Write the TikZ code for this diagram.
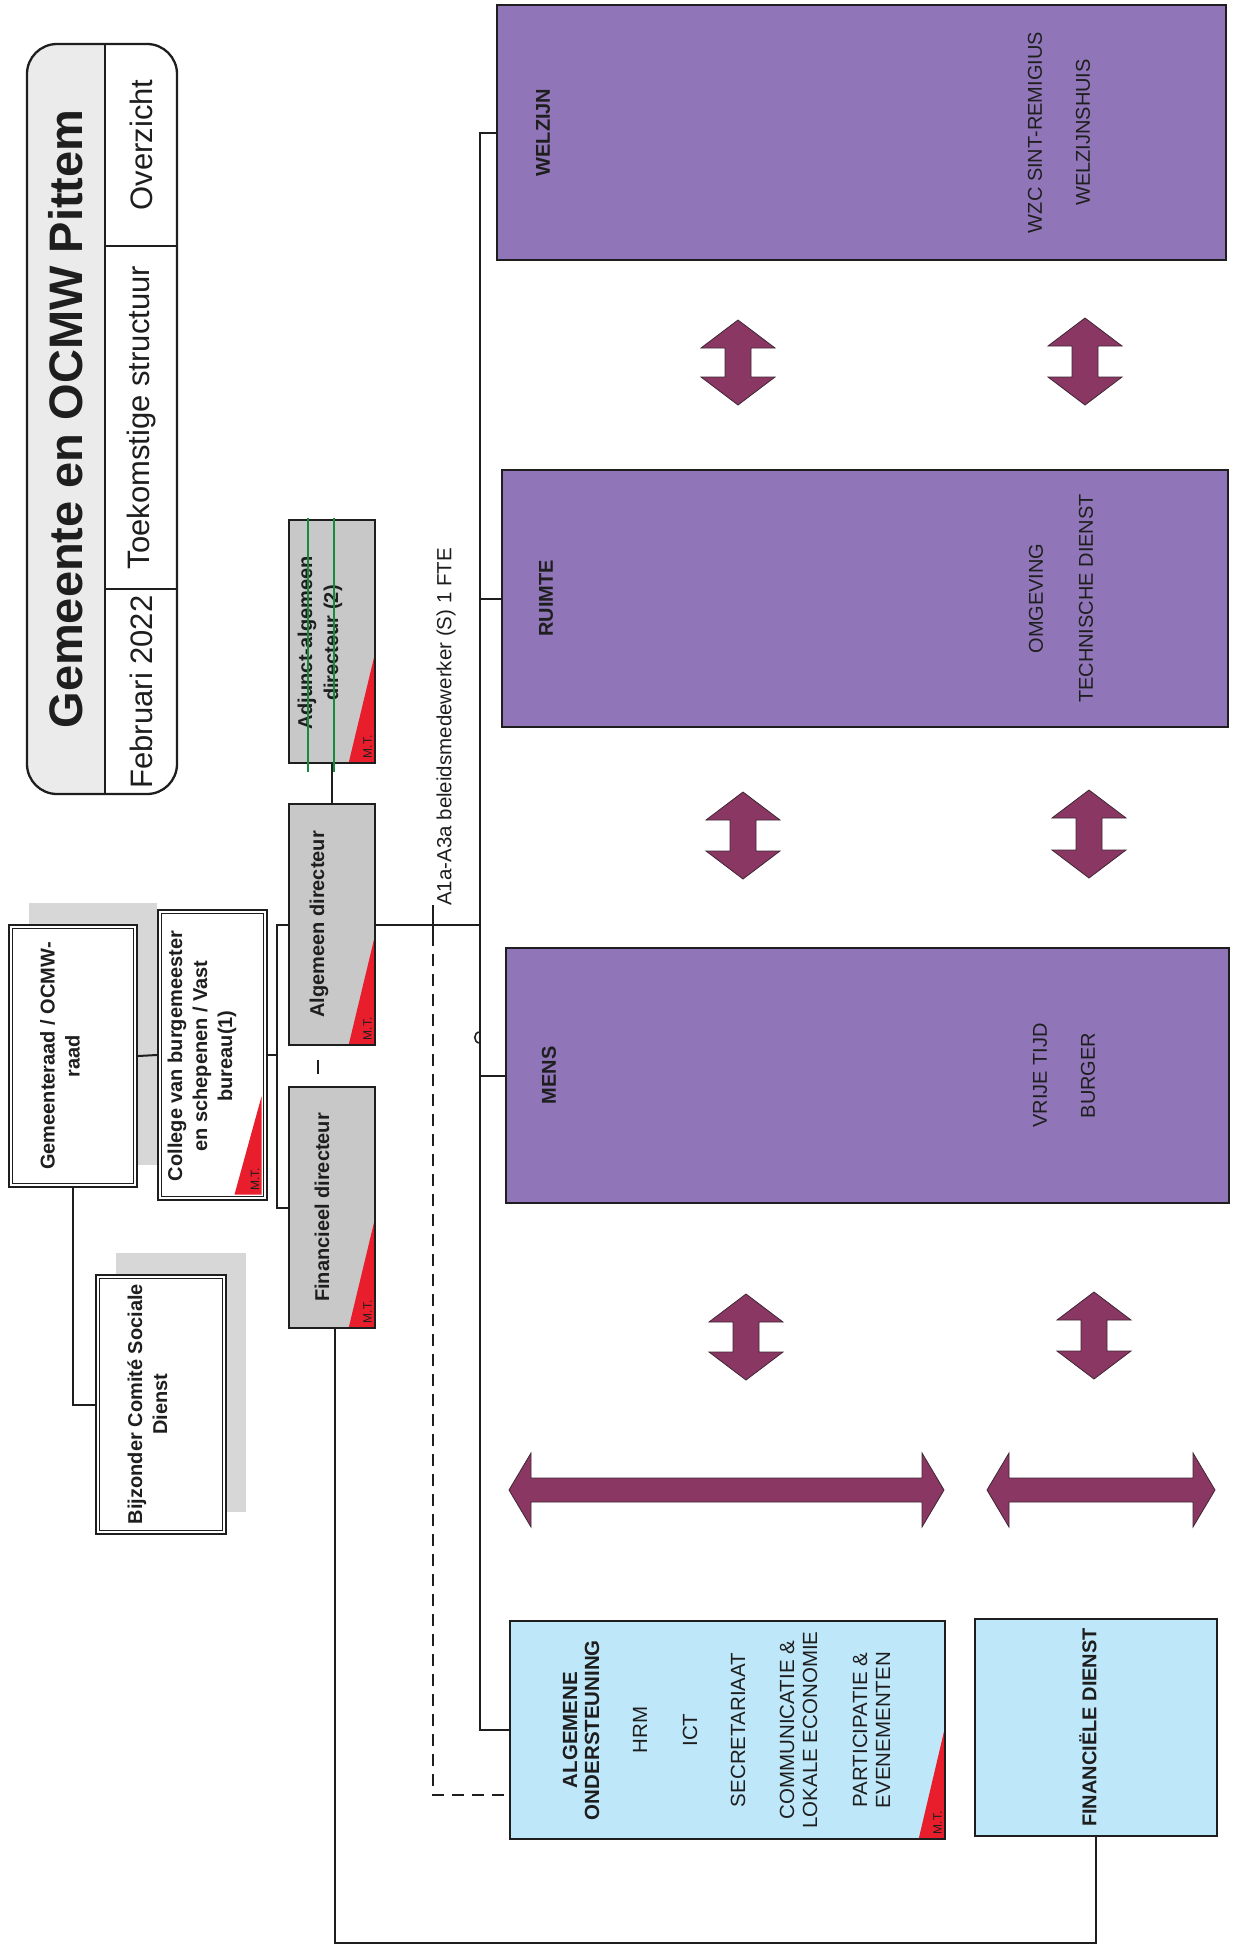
\documentclass[tikz,border=0pt]{standalone}
\usepackage{fontspec}
\setmainfont{Liberation Sans}
\usetikzlibrary{calc}
\definecolor{purp}{RGB}{144,118,184}
\definecolor{lblue}{RGB}{190,232,250}
\definecolor{dgray}{RGB}{200,200,200}
\definecolor{tgray}{RGB}{235,235,235}
\definecolor{shad}{RGB}{215,215,215}
\definecolor{mtred}{RGB}{232,30,45}
\definecolor{maroonc}{RGB}{139,55,100}
\definecolor{strikec}{RGB}{20,140,60}
\definecolor{ink}{RGB}{30,30,30}
\newcommand\myfs[2]{\fontsize{#1}{#2}\selectfont}
% red M.T. corner: #1 name, #2 x, #3 y of SE corner, #4 height, #5 width
\newcommand\mtri[5]{%
  \fill[mtred] (#2,#3) -- (#2,#3-#4) -- (#2-#5,#3) -- cycle;
  \node[rotate=90, inner sep=0pt, font=\myfs{12}{13}, text=ink] (#1) at (#2-6.5,#3-15) {M.T.};}
% vertical double block arrow: cx, y1, y2
\newcommand\vdarrow[3]{%
  \path[arr] (#1,#2) -- (#1+37,#2+28) -- (#1+13,#2+28) -- (#1+13,#3-28) -- (#1+37,#3-28) -- (#1,#3)
   -- (#1-37,#3-28) -- (#1-13,#3-28) -- (#1-13,#2+28) -- (#1-37,#2+28) -- cycle;}
% horizontal double block arrow: x1, x2, cy
\newcommand\hdarrow[3]{%
  \path[arr] (#1,#3) -- (#1+22,#3-37) -- (#1+22,#3-12) -- (#2-22,#3-12) -- (#2-22,#3-37) -- (#2,#3)
   -- (#2-22,#3+37) -- (#2-22,#3+12) -- (#1+22,#3+12) -- (#1+22,#3+37) -- cycle;}
\tikzset{
  box/.style={draw=ink, line width=2.3pt, rectangle, inner sep=0pt},
  lbl/.style={rotate=90, inner sep=0pt, align=center, text=ink},
  conn/.style={draw=ink, line width=2pt},
  dconn/.style={conn, dash pattern=on 12pt off 8pt},
  arr/.style={fill=maroonc, draw=ink!70!maroonc, line width=0.8pt},
  innerb/.style={draw=ink, line width=1.2pt},
}
\begin{document}
\begin{tikzpicture}[x=1pt,y=-1pt]
\fill[white] (0,0) rectangle (1232,1955);
\useasboundingbox (0,0) rectangle (1232,1955);

% ---------- title block ----------
\begin{scope}
  \clip[rounded corners=30pt] (27,44) rectangle (177,794);
  \fill[tgray] (27,44) rectangle (105,794);
\end{scope}
\node[box, rounded corners=30pt, minimum width=150pt, minimum height=750pt] (title) at (102,419) {};
\draw[conn] (105,44) -- (105,794);
\draw[conn] (105,246) -- (177,246);
\draw[conn] (105,589) -- (177,589);
\node[lbl, font=\bfseries\myfs{47}{50}] (ttl) at (66,419) {Gemeente en OCMW Pittem};
\node[lbl, font=\myfs{31}{34}] (feb) at (141,692) {Februari 2022};
\node[lbl, font=\myfs{31}{34}] (toe) at (141,417.5) {Toekomstige structuur};
\node[lbl, font=\myfs{31}{34}] (ove) at (141,145) {Overzicht};

% ---------- council boxes ----------
\fill[shad] (29,903) rectangle (157,1165);
\fill[shad] (116,1253) rectangle (246,1512);
\node[box, fill=white, minimum width=128pt, minimum height=262pt] (gem) at (73,1056) {};
\draw[innerb] ([xshift=5pt,yshift=-5pt]gem.north west) rectangle ([xshift=-5pt,yshift=5pt]gem.south east);
\node[box, fill=white, minimum width=109pt, minimum height=290pt] (col) at (212.5,1055) {};
\draw[innerb] ([xshift=5pt,yshift=-5pt]col.north west) rectangle ([xshift=-5pt,yshift=5pt]col.south east);
\node[box, fill=white, minimum width=130pt, minimum height=259pt] (bij) at (161,1404.5) {};
\draw[innerb] ([xshift=5pt,yshift=-5pt]bij.north west) rectangle ([xshift=-5pt,yshift=5pt]bij.south east);
\mtri{colmt}{261.5}{1194.5}{98}{27}
\node[lbl, font=\bfseries\myfs{20}{25}] (gemtxt) at (60,1056) {Gemeenteraad / OCMW-\\raad};
\node[lbl, font=\bfseries\myfs{20}{25}] (coltxt) at (202,1056) {College van burgemeester\\en schepenen / Vast\\bureau(1)};
\node[lbl, font=\bfseries\myfs{20}{25}] (bijtxt) at (147.5,1404) {Bijzonder Comité Sociale\\Dienst};

% ---------- directors ----------
\node[box, fill=dgray, minimum width=86pt, minimum height=243pt] (adj) at (332,641.5) {};
\node[box, fill=dgray, minimum width=86pt, minimum height=241pt] (alg) at (332,924.5) {};
\node[box, fill=dgray, minimum width=86pt, minimum height=241pt] (fin) at (332,1207.5) {};
\mtri{adjmt}{373.9}{761.9}{104}{25}
\mtri{algmt}{373.9}{1043.9}{104}{25}
\mtri{finmt}{373.9}{1326.9}{104}{25}
\node[lbl, font=\bfseries\myfs{20}{26}] (adjtxt) at (320,643) {Adjunct-algemeen\\directeur (2)};
\draw[strikec, line width=2.2pt] (308,518) -- (308,772);
\draw[strikec, line width=2.2pt] (334,518) -- (334,772);
\node[lbl, font=\bfseries\myfs{20}{24}] (algtxt) at (319,924.5) {Algemeen directeur};
\node[lbl, font=\bfseries\myfs{20}{24}] (fintxt) at (322,1207.5) {Financieel directeur};

% ---------- purple departments ----------
\node[box, fill=purp, minimum width=729pt, minimum height=255pt] (wel) at (861.5,132.5) {};
\node[box, fill=purp, minimum width=726pt, minimum height=257pt] (rui) at (865,598.5) {};
\node[box, fill=purp, minimum width=723pt, minimum height=255pt] (men) at (867.5,1075.5) {};
\node[lbl, font=\bfseries\myfs{20}{24}] (welh) at (543,132.5) {WELZIJN};
\node[lbl, font=\myfs{20}{24}] (wela) at (1035,132.5) {WZC SINT-REMIGIUS};
\node[lbl, font=\myfs{20}{24}] (welb) at (1083,132.5) {WELZIJNSHUIS};
\node[lbl, font=\bfseries\myfs{20}{24}] (ruih) at (546,598.5) {RUIMTE};
\node[lbl, font=\myfs{20}{24}] (ruia) at (1036,598.5) {OMGEVING};
\node[lbl, font=\myfs{20}{24}] (ruib) at (1086,598.5) {TECHNISCHE DIENST};
\node[lbl, font=\bfseries\myfs{20}{24}] (menh) at (549,1075.5) {MENS};
\node[lbl, font=\myfs{20}{24}] (mena) at (1040,1075.5) {VRIJE TIJD};
\node[lbl, font=\myfs{20}{24}] (menb) at (1088,1075.5) {BURGER};

% ---------- blue services ----------
\node[box, fill=lblue, minimum width=435pt, minimum height=218pt] (ao) at (727.5,1730) {};
\node[box, fill=lblue, minimum width=242pt, minimum height=217pt] (fd) at (1096,1727.5) {};
\mtri{aomt}{943.9}{1837.9}{106}{25}
\node[lbl, font=\bfseries\myfs{20.5}{22}] (aoh) at (581,1730) {ALGEMENE\\ONDERSTEUNING};
\node[lbl, font=\myfs{20.5}{23}] (aoa) at (640,1730) {HRM};
\node[lbl, font=\myfs{20.5}{23}] (aob) at (690,1730) {ICT};
\node[lbl, font=\myfs{20.5}{23}] (aoc) at (738,1730) {SECRETARIAAT};
\node[lbl, font=\myfs{20.5}{23}] (aod) at (798.5,1730) {COMMUNICATIE \&\\LOKALE ECONOMIE};
\node[lbl, font=\myfs{20.5}{23}] (aoe) at (871.5,1730) {PARTICIPATIE \&\\EVENEMENTEN};
\node[lbl, font=\bfseries\myfs{20}{24}] (fdh) at (1088,1727.5) {FINANCIËLE DIENST};

% ---------- block arrows ----------
\vdarrow{738}{320}{405}
\vdarrow{1085}{318}{405}
\vdarrow{743}{792}{879}
\vdarrow{1089}{790}{878}
\vdarrow{746}{1294}{1380}
\vdarrow{1094}{1292}{1379}
\hdarrow{509}{944}{1490}
\hdarrow{987}{1215}{1490}

% ---------- connectors ----------
\draw[conn] (gem.east) -- (col.west);
\draw[conn] (gem.south) |- (bij.west);
\coordinate (brk) at (277,1055);
\draw[conn] (col.east) -- (brk);
\draw[conn] (alg.west) -| (brk) |- (fin.west);
\draw[conn] (adj.south) -- (alg.north);
\draw[conn, dash pattern=on 14pt off 14pt, dash phase=14pt] ([xshift=-14pt]alg.south) -- ([xshift=-14pt]fin.north);
\coordinate (spT) at (480,132.5);
\coordinate (spB) at (480,1730);
\draw[conn] (wel.west) -- (spT) -- (spB) -- (ao.west);
\draw[conn] (rui.west) -- (rui.west -| spT);
\draw[conn] (men.west) -- (men.west -| spT);
\draw[conn] (alg.east) -- (alg.east -| spT);
\draw[conn, line width=1.6pt] (480,1032) .. controls (473,1032) and (473,1043) .. (480,1043);
\coordinate (tick) at (433,905);
\coordinate (tickb) at (433,934);
\draw[conn] (tick) -- (tickb);
\draw[dconn] (tickb) |- ([yshift=-65pt]ao.west);
\node[lbl, anchor=west, font=\myfs{20.5}{24}] (fte) at (446,906) {A1a-A3a beleidsmedewerker (S) 1 FTE};
\coordinate (fb) at (335,1943);
\draw[conn] ([xshift=3pt]fin.south) -- (fb) -| (fd.south);
\end{tikzpicture}
\end{document}
